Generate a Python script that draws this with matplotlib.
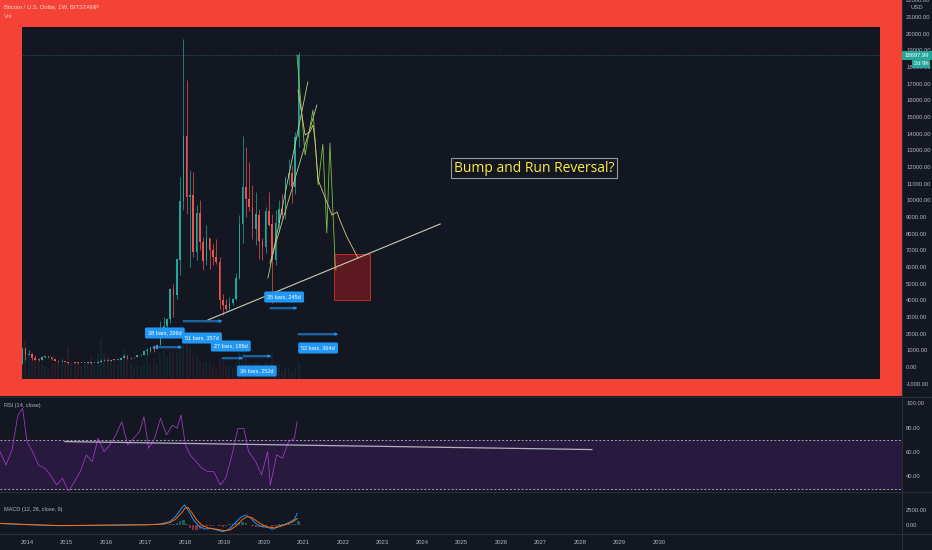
import matplotlib
matplotlib.use('Agg')
import matplotlib.pyplot as plt
from matplotlib.patches import Rectangle
from matplotlib.lines import Line2D

plt.rcParams['font.family'] = ['Liberation Sans', 'DejaVu Sans']

# ---------------- data ----------------
# monthly OHLC, Oct 2013 .. Nov 2020
start_year, start_month = 2013, 10
opens = [128, 204, 1130,
         732, 800, 550, 450, 445, 630, 640, 585, 480, 387, 338, 378,
         320, 217, 254, 244, 236, 230, 263, 284, 230, 236, 314, 377,
         430, 368, 437, 416, 448, 531, 673, 624, 573, 608, 700, 742,
         963, 970, 1190, 1080, 1350, 2300, 2480, 2870, 4700, 4340, 6450, 9950,
         13850, 10200, 10300, 6900, 9240, 7500, 6390, 7730, 7030, 6630, 6300, 4020,
         3740, 3460, 3820, 4100, 5320, 8560, 10800, 10100, 9600, 8300, 9150, 7560,
         7200, 9350, 8550, 6430, 8620, 9450, 9140, 11350, 11650, 10780, 13800]
highs = [215, 1163, 1160,
         1000, 830, 720, 550, 635, 680, 650, 600, 490, 415, 460, 385,
         320, 265, 300, 260, 245, 268, 318, 285, 245, 335, 500, 465,
         460, 445, 440, 465, 550, 780, 705, 625, 625, 715, 755, 975,
         1150, 1200, 1300, 1370, 2750, 3000, 2930, 4750, 5000, 6470, 11400, 19666,
         17200, 11800, 11700, 9750, 10000, 7780, 8500, 7750, 7400, 7700, 6600, 4400,
         4100, 4200, 4150, 5650, 9100, 13880, 13200, 12300, 10950, 10500, 9500, 7750,
         9600, 10500, 9200, 9450, 10050, 10400, 11450, 12500, 12100, 14100, 18900]
lows = [105, 197, 400,
        735, 400, 430, 340, 420, 520, 565, 440, 370, 280, 318, 300,
        160, 212, 240, 210, 225, 218, 253, 195, 225, 235, 300, 350,
        350, 365, 390, 412, 440, 520, 470, 465, 570, 605, 680, 740,
        750, 915, 890, 1060, 1330, 2100, 1830, 2670, 2980, 4100, 5500, 9400,
        9200, 6000, 6600, 6450, 7050, 5800, 6100, 5880, 6100, 6200, 3500, 3150,
        3350, 3400, 3700, 4050, 5300, 7450, 9000, 9350, 7700, 7300, 6500, 6400,
        6850, 8450, 3850, 6150, 8100, 8900, 8900, 10950, 9850, 10400, 13200]
closes = [204, 1130, 732,
          800, 550, 450, 445, 630, 640, 585, 480, 387, 338, 378, 320,
          217, 254, 244, 236, 230, 263, 284, 230, 236, 314, 377, 430,
          368, 437, 416, 448, 531, 673, 624, 573, 608, 700, 742, 963,
          970, 1190, 1080, 1350, 2300, 2480, 2870, 4700, 4340, 6450, 9950, 13850,
          10200, 10300, 6900, 9240, 7500, 6390, 7730, 7030, 6630, 6300, 4020, 3740,
          3460, 3820, 4100, 5320, 8560, 10800, 10100, 9600, 8300, 9150, 7560, 7200,
          9350, 8550, 6430, 8620, 9450, 9140, 11350, 11650, 10780, 13800, 18698]
volumes = [40, 90, 110,
           70, 80, 60, 50, 40, 35, 30, 40, 45, 50, 45, 40,
           90, 50, 45, 40, 35, 45, 50, 60, 40, 70, 110, 70,
           60, 50, 40, 40, 50, 80, 60, 40, 30, 35, 35, 45,
           60, 40, 55, 40, 70, 80, 60, 70, 80, 70, 90, 120,
           110, 90, 70, 65, 50, 45, 50, 45, 35, 30, 55, 50,
           35, 35, 30, 45, 80, 75, 60, 45, 40, 45, 40, 35,
           45, 40, 70, 40, 40, 25, 30, 30, 25, 30, 45]
last_price = 18697.99

# hand-drawn projection paths (year, price)
green_path_x = [2020.835, 2021.04, 2021.24, 2021.37, 2021.49, 2021.59, 2021.67, 2021.80, 2021.82]
green_path_y = [18720, 12720, 15420, 10920, 13380, 8040, 13440, 6300, 5820]
yellow_path_x = [2020.86, 2021.04, 2021.16, 2021.24, 2021.29, 2021.37, 2021.54, 2021.72, 2021.85, 2021.92, 2022.10, 2022.38]
yellow_path_y = [16620, 13920, 14100, 14520, 13620, 11220, 10200, 9120, 9300, 8820, 7800, 6540]
channel_a_x, channel_a_y = [2020.10, 2021.11], [5340, 17100]
channel_b_x, channel_b_y = [2020.15, 2021.34], [6240, 15720]
trend_x, trend_y = [2018.58, 2024.46], [2820, 8580]
target_box = (2021.77, 2022.68, 4020, 6780)

# date range measurements: start, end, level, label, label x, label y
ranges = [
    (2017.19, 2017.92, 1200, '38 bars, 266d', 2017.49, 2040),
    (2017.95, 2018.94, 2760, '51 bars, 357d', 2018.43, 1740),
    (2018.94, 2019.47, 540, '27 bars, 189d', 2019.16, 1260),
    (2019.47, 2020.18, 660, '36 bars, 252d', 2019.82, -240),
    (2020.15, 2020.84, 3540, '35 bars, 245d', 2020.51, 4200),
    (2020.86, 2021.87, 1980, '52 bars, 364d', 2021.37, 1140),
]

# RSI (14)
rsi_years = [2013.32, 2013.47, 2013.62, 2013.77, 2013.89, 2014.00, 2014.14, 2014.29, 2014.45, 2014.59,
             2014.75, 2014.90, 2015.05, 2015.20, 2015.35, 2015.50, 2015.65, 2015.80, 2015.95, 2016.10,
             2016.25, 2016.40, 2016.55, 2016.70, 2016.85, 2016.96, 2017.08, 2017.23, 2017.38, 2017.53,
             2017.68, 2017.80, 2017.90, 2018.01, 2018.13, 2018.28, 2018.43, 2018.58, 2018.73, 2018.89,
             2019.03, 2019.19, 2019.34, 2019.49, 2019.61, 2019.79, 2019.94, 2020.09, 2020.16, 2020.32,
             2020.47, 2020.62, 2020.77, 2020.84]
rsi_values = [60.3, 49.4, 61.6, 90.2, 95.6, 68.4, 60.3, 49.4, 46.7, 41.2,
              33.1, 38.5, 27.6, 35.8, 44.0, 57.6, 52.1, 71.2, 60.3, 65.7,
              73.9, 84.8, 65.7, 71.2, 76.6, 88.8, 63.0, 71.2, 87.5, 73.9,
              82.0, 79.3, 90.2, 65.7, 57.6, 52.1, 46.7, 44.0, 44.0, 33.1,
              38.5, 57.6, 79.3, 79.3, 60.3, 52.1, 41.2, 60.3, 33.1, 57.6,
              54.9, 68.4, 71.2, 84.8]
rsi_trend_x, rsi_trend_y = [2014.96, 2028.30], [68.5, 62.0]

# MACD (12, 26, 9)
macd_years = [2013.32, 2013.77, 2014.22, 2014.82, 2015.57, 2016.33, 2017.08, 2017.38, 2017.61, 2017.76,
              2017.91, 2017.99, 2018.10, 2018.22, 2018.36, 2018.51, 2018.66, 2018.81, 2018.96, 2019.11,
              2019.26, 2019.41, 2019.52, 2019.64, 2019.79, 2019.94, 2020.09, 2020.21, 2020.36, 2020.51,
              2020.66, 2020.77, 2020.84]
macd_values = [280, 110, 0, -110, -55, 0, 55, 165, 555, 1390,
               2780, 3330, 2220, 830, -280, -670, -555, -830, -1110, -720,
               280, 1280, 1610, 1280, 280, -280, -390, -720, -170, 55,
               500, 940, 1940]
signal_years = [2013.32, 2013.77, 2014.22, 2014.82, 2015.57, 2016.33, 2017.08, 2017.38, 2017.61, 2017.76,
                2017.91, 2018.00, 2018.08, 2018.18, 2018.30, 2018.45, 2018.60, 2018.80, 2019.00, 2019.15,
                2019.30, 2019.45, 2019.58, 2019.70, 2019.85, 2020.00, 2020.15, 2020.28, 2020.45, 2020.60,
                2020.75, 2020.84]
signal_values = [250, 150, 30, -90, -60, -10, 40, 120, 380, 950,
                 2000, 2800, 2900, 2000, 800, -150, -500, -700, -950, -800,
                 -100, 900, 1400, 1200, 500, -100, -400, -500, -150, 200,
                 600, 1100]
hist_values = [10, 20, 15, 40, 120, 120, 60, 200, 250, 350, 600, 800,
               200, -500, -900, -800, -600, -400, -200, -150, -100, -50, -200, -250,
               -100, 100, 200, 300, 500, 500, 300, 50, -200, -350, -350, -250,
               -100, -50, -300, -200, 100, 150, 150, 200, 150, 250, 600]
hist_start_year = 2017

year_ticks = list(range(2014, 2031))
price_ticks = list(range(-1000, 22001, 1000))
rsi_ticks = [40, 60, 80, 100]
macd_ticks = [0, 2500]

# ---------------- figure ----------------
W, H = 932, 550
BG = '#131722'
TXT = '#b2b5be'
UP, DOWN = '#26a69a', '#ef5350'
fig = plt.figure(figsize=(W / 100, H / 100), dpi=100, facecolor=BG)


def fy(py):
    return 1 - py / H


ax = fig.add_axes([0, fy(396), 902 / W, 396 / H])
rsi_ax = fig.add_axes([0, fy(491), 902 / W, 94 / H])
macd_ax = fig.add_axes([0, fy(533), 902 / W, 41 / H])

XL = (2013.3165, 2036.152)
for a in (ax, rsi_ax, macd_ax):
    a.set_facecolor(BG)
    a.set_xlim(*XL)
    for s in a.spines.values():
        s.set_visible(False)
    a.yaxis.tick_right()
    a.tick_params(axis='y', length=0, pad=3, labelsize=4.2, labelcolor=TXT)
    a.tick_params(axis='x', length=0)

ax.set_ylim(-1740, 22020)
rsi_ax.set_ylim(28.16, 104.9)
macd_ax.set_ylim(-1333, 5500)

ax.set_yticks(price_ticks)
ax.set_yticklabels(['%.2f' % v for v in price_ticks])
ax.set_xticks([])
rsi_ax.set_yticks(rsi_ticks)
rsi_ax.set_yticklabels(['%.2f' % v for v in rsi_ticks])
rsi_ax.set_xticks([])
macd_ax.set_yticks(macd_ticks)
macd_ax.set_yticklabels(['%.2f' % v for v in macd_ticks])
macd_ax.set_xticks(year_ticks)
macd_ax.set_xticklabels([str(y) for y in year_ticks])
macd_ax.tick_params(axis='x', labelsize=4.2, labelcolor=TXT, pad=5)

# ---------------- price pane ----------------
n = len(closes)
xs = []
for i in range(n):
    m = start_month - 1 + i
    xs.append(start_year + m // 12 + ((m % 12) + 0.5) / 12)
cols = [UP if c >= o else DOWN for o, c in zip(opens, closes)]

# volume (faint)
ax.bar(xs, [v * 22 for v in volumes], bottom=-720, width=0.05,
       color=cols, alpha=0.09, zorder=1)

ax.vlines(xs, lows, highs, colors=cols, lw=0.5, zorder=3)
bodies = [max(abs(c - o), 40) for o, c in zip(opens, closes)]
ax.bar(xs, bodies, bottom=[min(o, c) for o, c in zip(opens, closes)],
       width=0.04, color=cols, zorder=3)

ax.axhline(last_price, color='#3f6f78', lw=0.5, ls=(0, (1, 1.5)), zorder=2)

# drawings
ax.plot(trend_x, trend_y, color='#c9cdb4', lw=0.8, zorder=5)
ax.plot(channel_a_x, channel_a_y, color='#b9cf86', lw=0.6, zorder=5)
ax.plot(channel_b_x, channel_b_y, color='#b9cf86', lw=0.6, zorder=5)
ax.plot(green_path_x, green_path_y, color='#7cbf4a', lw=0.6, zorder=5)
ax.plot(yellow_path_x, yellow_path_y, color='#d8c878', lw=0.6, zorder=5)
bx0, bx1, by0, by1 = target_box
ax.add_patch(Rectangle((bx0, by0), bx1 - bx0, by1 - by0, fc='#b71c1c', alpha=0.45,
                       ec='none', zorder=4))
ax.add_patch(Rectangle((bx0, by0), bx1 - bx0, by1 - by0, fc='none', ec='#c62828',
                       lw=0.7, zorder=4))

for x0, x1, lvl, lab, lx, ly in ranges:
    ax.add_patch(Rectangle((x0, lvl - 90), x1 - x0, 180, fc='#2196f3', alpha=0.22,
                           ec='none', zorder=6))
    ax.annotate('', xy=(x1, lvl), xytext=(x0, lvl),
                arrowprops=dict(arrowstyle='-|>', color='#2196f3', lw=0.7,
                                mutation_scale=4, shrinkA=0, shrinkB=0), zorder=6)
for x0, x1, lvl, lab, lx, ly in ranges:
    ax.text(lx, ly, lab, ha='center', va='center', fontsize=4, color='white', zorder=7,
            bbox=dict(boxstyle='round,pad=0.55,rounding_size=0.3', fc='#2196f3', ec='none'))

ax.text(2026.84, 11940, 'Bump and Run Reversal?', ha='center', va='center',
        fontsize=10, color='#ffeb3b', family=['Open Sans', 'DejaVu Sans'], zorder=8,
        bbox=dict(boxstyle='square,pad=0.2', fc=BG, ec='#9598a1', lw=0.8))

# red frame
RED = '#f44336'
for (x, y, w, h) in [(0, 0, 22 / 902, 1), (880 / 902, 0, 22 / 902, 1),
                     (0, 0, 1, 17 / 396), (0, 369 / 396, 1, 27 / 396)]:
    ax.add_patch(Rectangle((x, y), w, h, transform=ax.transAxes, fc=RED, ec='none',
                           zorder=20))

# ---------------- RSI pane ----------------
rsi_ax.axhspan(30, 70, color='#28193f', zorder=0)
rsi_ax.axhline(70, color='#a0a3ad', lw=0.7, ls=(0, (2, 2)), zorder=1)
rsi_ax.axhline(30, color='#a0a3ad', lw=0.7, ls=(0, (2, 2)), zorder=1)
rsi_ax.plot(rsi_years, rsi_values, color='#a33cc4', lw=0.55, zorder=2)
rsi_ax.plot(rsi_trend_x, rsi_trend_y, color='#c9ccd4', lw=0.9, alpha=0.85, zorder=3)

# ---------------- MACD pane ----------------
hx = [hist_start_year + (i + 0.5) / 12 for i in range(len(hist_values))]
hcols = ['#26a69a' if v >= 0 else '#ef5350' for v in hist_values]
macd_ax.bar(hx, hist_values, width=0.06, color=hcols, alpha=0.5, zorder=1)
macd_ax.plot(macd_years, macd_values, color='#2196f3', lw=0.7, zorder=2)
macd_ax.plot(signal_years, signal_values, color='#ff6d00', lw=0.7, zorder=3)

# ---------------- separators & labels ----------------
for yy in (396.5, 491.5, 533.5):
    fig.add_artist(Line2D([0, 1], [fy(yy), fy(yy)], color='#2a2e39', lw=0.8))
fig.add_artist(Line2D([902 / W, 902 / W], [0, 1], color='#2a2e39', lw=0.8))

fig.text(4 / W, fy(7), 'Bitcoin / U.S. Dollar, 1W, BITSTAMP', fontsize=4.2,
         color='#fbd3ce', va='center', ha='left')
fig.text(4 / W, fy(16), 'Vol', fontsize=4.2, color='#f6b3ab', va='center', ha='left')
fig.text(4 / W, fy(406), 'RSI (14, close)', fontsize=4, color=TXT, va='center', ha='left')
fig.text(4 / W, fy(509), 'MACD (12, 26, close, 9)', fontsize=4, color=TXT,
         va='center', ha='left')
fig.text(917 / W, fy(7.5), 'USD', fontsize=4.2, color=TXT, va='center', ha='center')
fig.text(917 / W, fy(55.5), '%.2f' % last_price, fontsize=4.2, color='white',
         va='center', ha='center',
         bbox=dict(boxstyle='square,pad=0.4', fc='#26a69a', ec='none'))
fig.text(921 / W, fy(63.5), '2d 9h', fontsize=4.2, color='white', va='center',
         ha='center', bbox=dict(boxstyle='square,pad=0.3', fc='#26a69a', ec='none'))

fig.savefig('out.png', dpi=100, facecolor=BG)
